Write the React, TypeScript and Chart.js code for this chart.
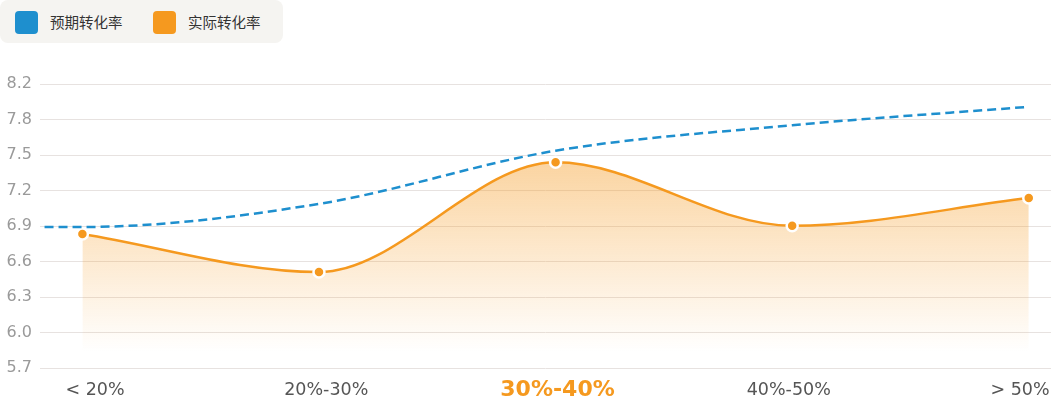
import React, { useEffect, useRef } from "react";
import { Chart, registerables } from "chart.js";

Chart.register(...registerables);

// ---- data ----
const categories = ["< 20%", "20%-30%", "30%-40%", "40%-50%", "> 50%"];
const highlightIndex = 2;
const seriesNames = ["预期转化率", "实际转化率"];
const actualRate = [6.86, 6.53, 7.48, 6.93, 7.17];
const expectedPositions = [-0.16, 0, 1, 2, 3, 4];
const expectedRate = [6.92, 6.92, 7.12, 7.58, 7.8, 7.96];
const yTickLabels = ["5.7", "6.0", "6.3", "6.6", "6.9", "7.2", "7.5", "7.8", "8.2"];
const yMin = 5.7;
const yMax = 8.157;

// ---- styles ----
const BLUE = "#1e8fce";
const ORANGE = "#f5991f";
const FONT = "'DejaVu Sans', sans-serif";

export default function App() {
  const canvasRef = useRef<HTMLCanvasElement | null>(null);

  useEffect(() => {
    const canvas = canvasRef.current;
    if (!canvas) return;
    const chart = new Chart(canvas, {
      type: "line",
      data: {
        datasets: [
          {
            label: seriesNames[0],
            data: expectedPositions.map((x, i) => ({ x, y: expectedRate[i] })),
            borderColor: BLUE,
            borderWidth: 2.5,
            borderDash: [9, 5],
            pointRadius: 0,
            cubicInterpolationMode: "monotone",
            fill: false,
            xAxisID: "x",
            yAxisID: "y",
          },
          {
            label: seriesNames[1],
            data: actualRate.map((y, i) => ({ x: i, y })),
            borderColor: ORANGE,
            borderWidth: 2.5,
            backgroundColor: (ctx: any) => {
              const c = ctx.chart;
              const area = c.chartArea;
              if (!area) return "rgba(245,153,31,0.3)";
              const top = c.scales.y.getPixelForValue(Math.max(...actualRate));
              const bottom = area.bottom - 16;
              const g = c.ctx.createLinearGradient(0, top, 0, bottom);
              g.addColorStop(0, "rgba(245,153,31,0.42)");
              g.addColorStop(1, "rgba(245,153,31,0)");
              return g;
            },
            fill: "start",
            pointRadius: 5.5,
            pointHoverRadius: 5.5,
            pointBackgroundColor: ORANGE,
            pointBorderColor: "#ffffff",
            pointBorderWidth: 2.5,
            cubicInterpolationMode: "monotone",
            xAxisID: "x",
            yAxisID: "y",
          },
        ],
      },
      options: {
        animation: false,
        responsive: true,
        maintainAspectRatio: false,
        layout: { autoPadding: false, padding: { top: 84, right: 0, left: 0, bottom: 0 } },
        plugins: {
          legend: { display: false },
          tooltip: { enabled: false },
        },
        scales: {
          x: {
            type: "linear",
            display: false,
            min: -0.1792,
            max: 4.094,
          },
          xLabels: {
            type: "linear",
            position: "bottom",
            min: -0.2378,
            max: 4.134,
            grid: { display: false, drawTicks: false },
            border: { display: false },
            afterBuildTicks: (s: any) => {
              s.ticks = categories.map((_, i) => ({ value: i }));
            },
            afterFit: (s: any) => {
              s.height = 37;
              s.paddingLeft = 0;
              s.paddingRight = 0;
            },
            ticks: {
              autoSkip: false,
              maxRotation: 0,
              minRotation: 0,
              padding: 0,
              callback: (_v: any, i: number) => categories[i],
              color: (ctx: any) => (ctx.index === highlightIndex ? ORANGE : "#555555"),
              font: (ctx: any) =>
                ctx.index === highlightIndex
                  ? { family: FONT, size: 22, weight: "bold", lineHeight: "45px" }
                  : { family: FONT, size: 17.5, weight: "normal", lineHeight: "45px" },
            },
          },
          y: {
            type: "linear",
            min: yMin,
            max: yMax,
            afterBuildTicks: (s: any) => {
              const n = yTickLabels.length - 1;
              s.ticks = yTickLabels.map((_, i) => ({ value: yMin + (i * (yMax - yMin)) / n }));
            },
            afterFit: (s: any) => {
              s.width = 40;
            },
            grid: { color: "#e7e2e0", lineWidth: 1, drawTicks: false },
            border: { display: false },
            ticks: {
              padding: 8,
              color: "#9a9a9a",
              font: { family: FONT, size: 16 },
              callback: (_v: any, i: number) => yTickLabels[i],
            },
          },
        },
      } as any,
    });
    return () => chart.destroy();
  }, []);

  const legend = [
    { label: seriesNames[0], color: BLUE, left: 15 },
    { label: seriesNames[1], color: ORANGE, left: 153 },
  ];

  return (
    <div style={{ position: "fixed", left: 0, top: 0, width: 1051, height: 405, background: "#ffffff" }}>
      <canvas ref={canvasRef} style={{ width: "100%", height: "100%", display: "block" }} />
      <div
        style={{
          position: "absolute",
          left: 0,
          top: 0,
          width: 283,
          height: 43,
          background: "#f5f4f1",
          borderRadius: 8,
          fontFamily: "'Noto Sans CJK SC', sans-serif",
          fontSize: 14.5,
          color: "#333333",
        }}
      >
        {legend.map((it) => (
          <React.Fragment key={it.label}>
            <div
              style={{
                position: "absolute",
                left: it.left,
                top: 10.5,
                width: 23,
                height: 23,
                borderRadius: 4,
                background: it.color,
              }}
            />
            <span
              style={{
                position: "absolute",
                left: it.left + 35,
                top: 12,
                lineHeight: "20px",
                whiteSpace: "nowrap",
              }}
            >
              {it.label}
            </span>
          </React.Fragment>
        ))}
      </div>
    </div>
  );
}
